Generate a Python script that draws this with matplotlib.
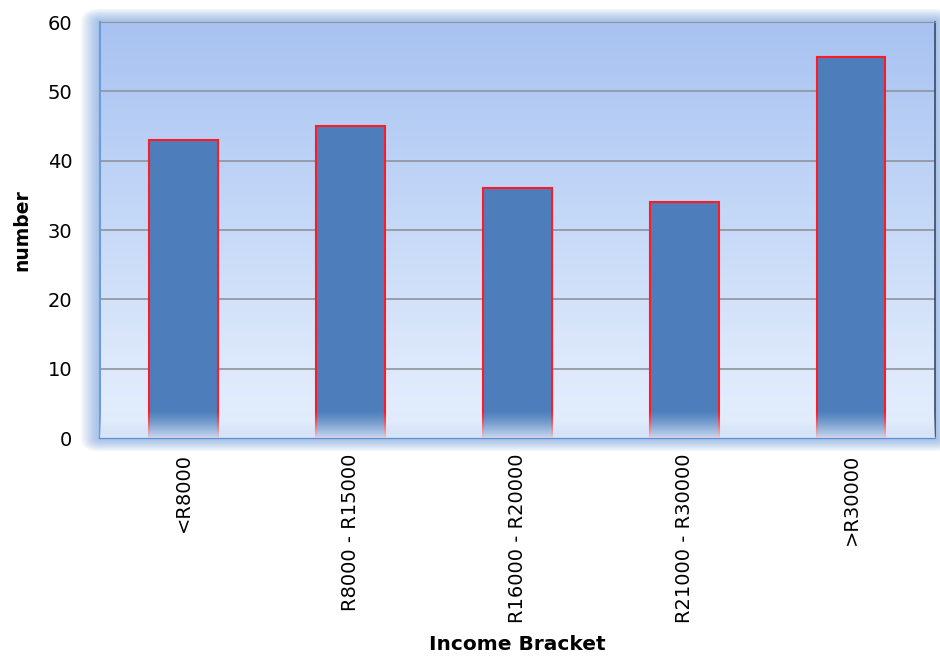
import matplotlib
matplotlib.use("Agg")
import matplotlib.pyplot as plt
import numpy as np
from matplotlib.colors import LinearSegmentedColormap
from matplotlib.patches import FancyBboxPatch

# Household counts per income bracket
brackets = ["<R8000", "R8000 - R15000", "R16000 - R20000", "R21000 - R30000", ">R30000"]
counts = [43, 45, 36, 34, 55]
y_ticks = [0, 10, 20, 30, 40, 50, 60]

plt.rcParams["font.family"] = ["DejaVu Sans"]

fig = plt.figure(figsize=(9.4, 6.57), dpi=100)
ax = fig.add_axes([0.1064, 0.3333, 0.888, 0.633])
ax.set_zorder(2)

# soft blue glow around the plot area
x0, y0, w, h = ax.get_position().bounds
for pad in np.linspace(0.02, 0.002, 9):
    fig.patches.append(FancyBboxPatch(
        (x0, y0), w, h, boxstyle=f"round,pad={pad}",
        transform=fig.transFigure, facecolor="#5b8fd8", edgecolor="none",
        alpha=0.08, zorder=0))

# vertical gradient background
bg = LinearSegmentedColormap.from_list(
    "bg", [(0.0, "#c9d9f3"), (0.035, "#e3edfd"), (0.2, "#dce8fb"),
           (0.55, "#c3d7f7"), (1.0, "#a8c2f1")])
grad = np.linspace(0, 1, 256).reshape(-1, 1)
ax.imshow(grad, extent=[0, 1, 0, 1], transform=ax.transAxes, cmap=bg,
          origin="lower", aspect="auto", zorder=0)

x = np.arange(len(brackets))
ax.bar(x, counts, width=0.41, color="#4d7ebb", edgecolor="#ff1a24",
       linewidth=1.5, zorder=3)

# pale haze along the base of the plot
haze = np.zeros((64, 1, 4))
haze[..., :3] = [0.86, 0.91, 0.98]
haze[:, 0, 3] = np.linspace(0.9, 0.0, 64) ** 1.3
ax.imshow(haze, extent=[0, 1, 0, 0.065], transform=ax.transAxes,
          origin="lower", aspect="auto", zorder=4)

ax.set_xlim(-0.5, len(brackets) - 0.5)
ax.set_ylim(0, 60)
ax.set_yticks(y_ticks)
ax.set_yticklabels([str(t) for t in y_ticks], fontsize=14)
ax.set_xticks(x)
ax.set_xticklabels(brackets, rotation=90, fontsize=14)
ax.tick_params(axis="y", length=0, pad=20)
ax.tick_params(axis="x", length=0, pad=11)
ax.yaxis.grid(True, color="#8e939b", linewidth=1.2, zorder=1)
ax.set_axisbelow(True)

ax.spines["top"].set_color("#8e939b")
ax.spines["left"].set_color("#6f9bd8")
ax.spines["left"].set_linewidth(1.5)
ax.spines["bottom"].set_color("#5b8fd8")
ax.spines["bottom"].set_linewidth(1.6)
ax.spines["right"].set_color("#3a4a66")
ax.spines["right"].set_linewidth(1.2)

ax.set_ylabel("number", fontsize=13.5, fontweight="bold")
ax.yaxis.set_label_coords(-0.094, 0.5)
ax.yaxis.label.set_va("center")
ax.set_xlabel("Income Bracket", fontsize=14.5, fontweight="bold")
ax.xaxis.set_label_coords(0.5, -0.497)
ax.xaxis.label.set_va("center")

fig.savefig("out.png", dpi=100)
